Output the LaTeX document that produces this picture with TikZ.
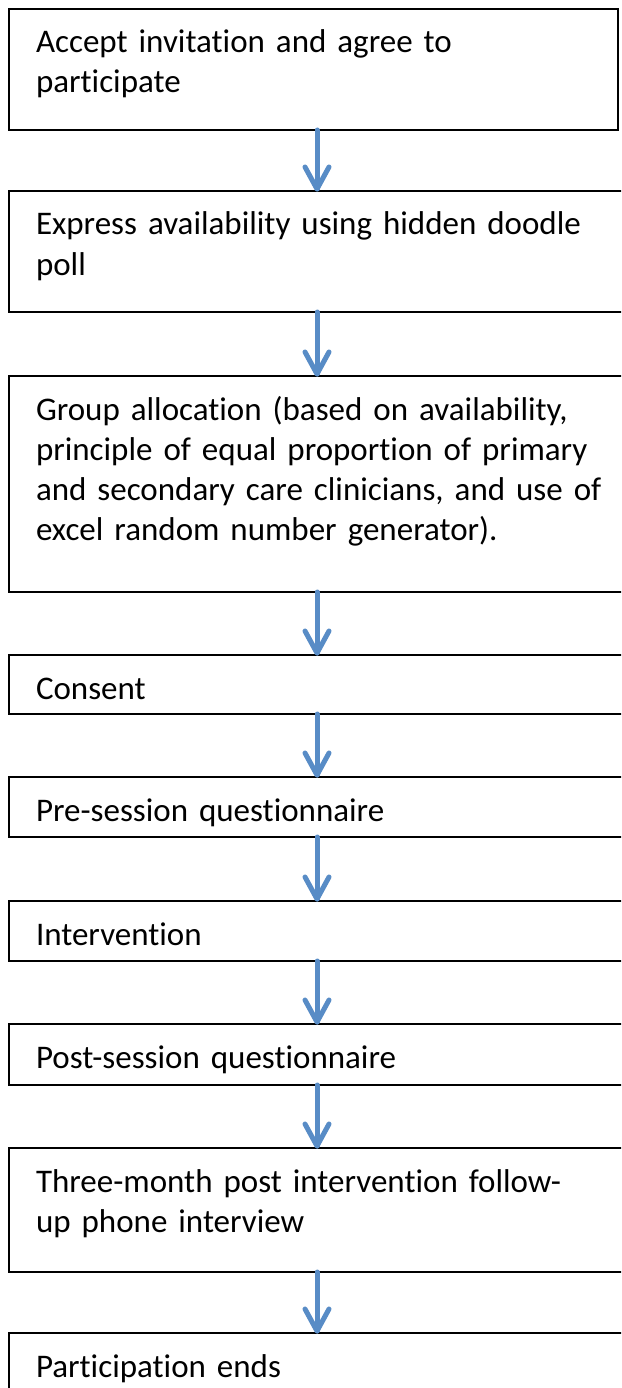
\documentclass[tikz,border=0pt]{standalone}
\usepackage{fontspec}
\setmainfont{Carlito}[Ligatures={NoCommon}]
\usetikzlibrary{calc}
\definecolor{flowblue}{RGB}{88,140,198}
\tikzset{
  stepbox/.style={draw=black, line width=1.8pt, rectangle, inner sep=0pt, outer sep=0pt, anchor=north west},
  steptext/.style={anchor=base west, inner sep=0pt, outer sep=0pt, align=left, text width=#1,
     font=\fontsize{33pt}{40pt}\selectfont},
  steptext/.default=590pt,
  flow/.style={draw=flowblue, line width=5pt, line cap=round, line join=round}
}
\newcommand{\flowarrow}[2]{%
  \draw[flow] (#2.north |- #1.south) -- ($(#2.north)+(0,-2)$);
  \draw[flow] ($(#2.north)+(-12,-24)$) -- ($(#2.north)+(0,-2)$) -- ($(#2.north)+(12,-24)$);
}
\begin{document}
\begin{tikzpicture}[x=1pt,y=-1pt]
\useasboundingbox (0,0) rectangle (621,1388);
\clip (0,0) rectangle (621,1388);
\fill[white] (0,0) rectangle (621,1388);
% boxes
\node[stepbox, minimum width=609pt, minimum height=121pt] (b1) at (9,9) {};
\node[stepbox, minimum width=616pt, minimum height=121pt] (b2) at (9,191) {};
\node[stepbox, minimum width=616pt, minimum height=216pt] (b3) at (9,376) {};
\node[stepbox, minimum width=616pt, minimum height=59pt] (b4) at (9,655) {};
\node[stepbox, minimum width=616pt, minimum height=60pt] (b5) at (9,777) {};
\node[stepbox, minimum width=616pt, minimum height=60pt] (b6) at (9,901) {};
\node[stepbox, minimum width=616pt, minimum height=61pt] (b7) at (9,1024) {};
\node[stepbox, minimum width=616pt, minimum height=124pt] (b8) at (9,1148) {};
\node[stepbox, minimum width=616pt, minimum height=90pt] (b9) at (9,1333) {};
% texts
\node[steptext] (t1) at ($(b1.north west)+(27,44)$) {Accept invitation and agree to\\participate};
\node[steptext] (t2) at ($(b2.north west)+(27,44)$) {Express availability using hidden doodle\\poll};
\node[steptext] (t3) at ($(b3.north west)+(27,44)$) {Group allocation (based on availability,\\principle of equal proportion of primary\\and secondary care clinicians, and use of\\excel random number generator).};
\node[steptext] (t4) at ($(b4.north west)+(27,44)$) {Consent};
\node[steptext] (t5) at ($(b5.north west)+(27,44)$) {Pre-session questionnaire};
\node[steptext] (t6) at ($(b6.north west)+(27,44)$) {Intervention};
\node[steptext] (t7) at ($(b7.north west)+(27,44)$) {Post-session questionnaire};
\node[steptext] (t8) at ($(b8.north west)+(27,44)$) {Three-month post intervention follow-\\up phone interview};
\node[steptext] (t9) at ($(b9.north west)+(27,44)$) {Participation ends};
% arrows
\flowarrow{b1}{b2}
\flowarrow{b2}{b3}
\flowarrow{b3}{b4}
\flowarrow{b4}{b5}
\flowarrow{b5}{b6}
\flowarrow{b6}{b7}
\flowarrow{b7}{b8}
\flowarrow{b8}{b9}
\end{tikzpicture}
\end{document}
